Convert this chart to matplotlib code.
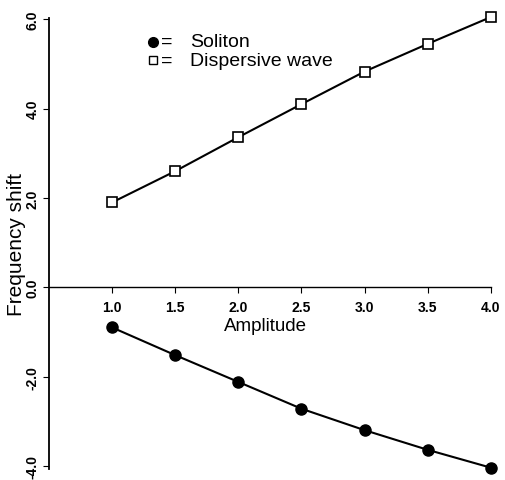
import matplotlib
matplotlib.use('Agg')
import matplotlib.pyplot as plt
import numpy as np

plt.rcParams['font.family'] = ['Liberation Sans', 'DejaVu Sans']

amplitude = [1.0, 1.5, 2.0, 2.5, 3.0, 3.5, 4.0]
soliton = [-0.90, -1.52, -2.12, -2.72, -3.20, -3.64, -4.04]
dispersive = [1.90, 2.60, 3.36, 4.10, 4.83, 5.45, 6.05]

xticks = [1.0, 1.5, 2.0, 2.5, 3.0, 3.5, 4.0]
yticks = [-4.0, -2.0, 0.0, 2.0, 4.0, 6.0]

W, H = 506, 481
fig = plt.figure(figsize=(W/100, H/100), dpi=100)
ax = fig.add_axes([49/W, 1 - 470/H, (492 - 49)/W, (470 - 19)/H])

ax.plot(amplitude, dispersive, color='black', lw=1.5, marker='s', ms=7,
        mfc='white', mec='black', mew=1.2, clip_on=False)
ax.plot(amplitude, soliton, color='black', lw=1.5, marker='o', ms=8,
        mfc='black', mec='black', clip_on=False)

ax.set_xlim(0.5, 4.01)
ax.set_ylim(-4.07, 6.03)

ax.spines['top'].set_visible(False)
ax.spines['right'].set_visible(False)
ax.spines['bottom'].set_position(('data', 0))
ax.spines['left'].set_linewidth(1.3)
ax.spines['bottom'].set_linewidth(1.0)
ax.spines['bottom'].set_bounds(0.5, 4.0)

ax.set_xticks(xticks)
ax.set_xticklabels([f'{v:.1f}' for v in xticks], fontsize=10, fontweight='bold')
ax.set_yticks(yticks)
ax.set_yticklabels([f'{v:.1f}' for v in yticks], fontsize=10, fontweight='bold',
                   rotation=90, va='center')
ax.tick_params(axis='x', direction='out', length=4, pad=5)
ax.tick_params(axis='y', direction='out', length=4, pad=3)

fig.text(17/W, 1 - 245/H, 'Frequency shift', rotation=90, fontsize=15,
         ha='center', va='center')
fig.text(265/W, 1 - 327/H, 'Amplitude', fontsize=13.5, ha='center', va='center')

# legend drawn by hand, as in the original figure
ax.plot([1.324], [5.50], marker='o', ms=7, color='black', clip_on=False)
ax.plot([1.324], [5.08], marker='s', ms=6, mfc='white', mec='black', mew=1.0, clip_on=False)
ax.text(1.39, 5.50, '=', fontsize=14, va='center')
ax.text(1.39, 5.08, '=', fontsize=14, va='center')
ax.text(1.617, 5.50, 'Soliton', fontsize=14, va='center')
ax.text(1.617, 5.08, 'Dispersive wave', fontsize=14, va='center')

fig.savefig('out.png', dpi=100)
